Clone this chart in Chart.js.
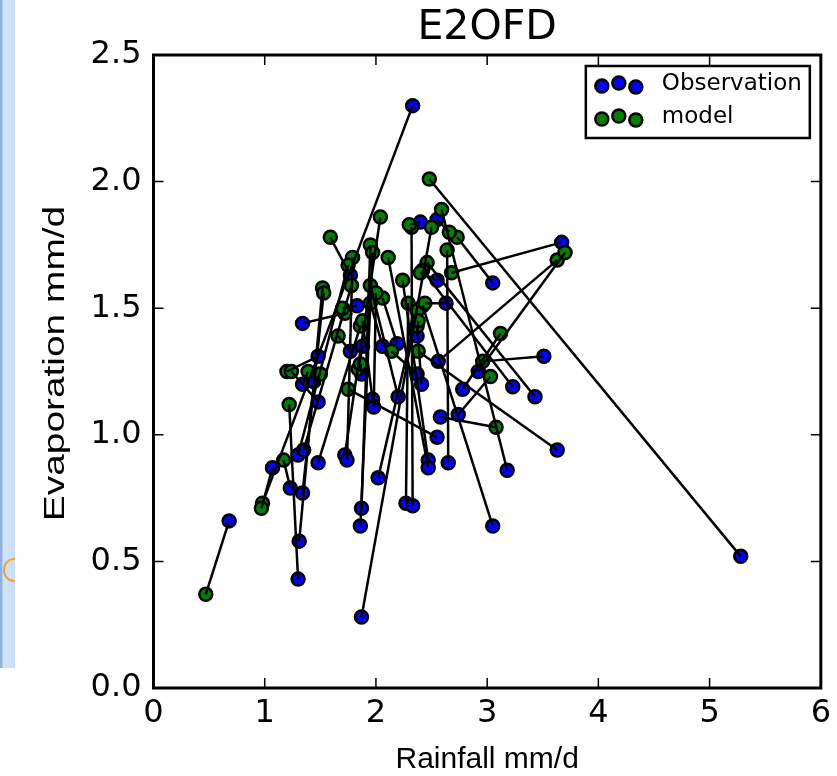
<!DOCTYPE html>
<html>
<head>
<meta charset="utf-8">
<script src="https://cdn.jsdelivr.net/npm/chart.js@4.4.1/dist/chart.umd.min.js"></script>
<style>
  html, body { margin: 0; padding: 0; background: #fff; overflow: hidden; }
  #wrap { position: relative; width: 837px; height: 776px; overflow: hidden; background: #fff; }
  #slide { position: absolute; left: 0; top: 0; width: 15px; height: 668px;
           background: linear-gradient(90deg, #8fb2de 0, #8fb2de 2px, #d3e5f8 3px, #c9def5 100%); }
  #swirl { position: absolute; left: 3px; top: 558px; width: 22px; height: 24px;
           border: 2px solid #f2a42c; border-radius: 50%; box-sizing: border-box; clip-path: inset(0 10px 0 0); }
  #chart { position: absolute; left: 0; top: 0; }
</style>
</head>
<body>
<div id="wrap">
  <div id="slide"></div>
  <div id="swirl"></div>
  <canvas id="chart" width="837" height="776"></canvas>
</div>
<script>
// each observation is joined to its model value by a line
const obsRain = [0.68, 5.28, 2.33, 3.67, 2.56, 2.92, 3.51, 3.05, 3.63, 3.43,
                 3.23, 3.18, 3.05, 2.78, 2.74, 2.58, 1.87, 2.27, 2.33, 2.47,
                 2.47, 2.65, 2.55, 2.02, 1.87, 1.86, 1.72, 1.74, 1.77, 1.30,
                 1.31, 1.07, 1.23, 1.34, 1.30, 1.35, 1.48, 1.34, 1.77, 1.88,
                 2.06, 2.19, 2.37, 2.41, 1.48, 1.34, 1.44, 2.20, 2.40, 2.55,
                 2.55, 2.63, 2.37, 1.48, 1.97, 1.98, 1.83, 1.87];
const obsEvap = [0.66, 0.52, 2.30, 1.76, 1.29, 1.25, 1.31, 1.60, 0.94, 1.15,
                 1.19, 0.86, 0.64, 1.18, 1.08, 1.07, 0.28, 0.73, 0.72, 0.90,
                 0.87, 0.89, 0.99, 0.83, 0.71, 0.64, 0.92, 0.90, 1.63, 0.43,
                 0.58, 0.87, 0.79, 0.77, 0.92, 0.94, 0.89, 1.44, 1.33, 1.35,
                 1.35, 1.36, 1.24, 1.20, 1.31, 1.20, 1.21, 1.15, 1.84, 1.85,
                 1.61, 1.52, 1.39, 1.13, 1.14, 1.11, 1.51, 1.24];
const modRain = [0.47, 2.48, 0.98, 2.68, 3.63, 3.70, 2.96, 2.73, 2.38, 2.46,
                 2.42, 2.59, 2.42, 3.12, 3.03, 3.08, 2.50, 2.29, 2.32, 2.24,
                 2.11, 2.64, 1.75, 2.37, 1.95, 1.97, 2.04, 1.79, 1.59, 1.22,
                 1.52, 0.97, 1.17, 1.53, 1.75, 1.78, 1.86, 1.72, 1.66, 1.84,
                 1.95, 2.06, 2.14, 2.37, 1.20, 1.39, 1.50, 1.95, 2.30, 2.66,
                 2.40, 2.44, 2.38, 1.24, 1.88, 2.00, 1.70, 1.86];
const modEvap = [0.37, 2.01, 0.73, 1.64, 1.69, 1.72, 1.29, 1.78, 1.33, 1.68,
                 1.65, 1.89, 1.51, 1.40, 1.23, 1.03, 1.82, 1.52, 1.82, 1.61,
                 1.70, 1.73, 1.18, 1.49, 1.75, 1.72, 1.86, 1.70, 1.78, 1.12,
                 1.58, 0.71, 0.90, 1.56, 1.67, 1.59, 1.43, 1.48, 1.39, 1.26,
                 1.52, 1.54, 1.33, 1.43, 1.25, 1.25, 1.24, 1.59, 1.83, 1.80,
                 1.64, 1.52, 1.45, 1.25, 1.45, 1.56, 1.50, 1.28];

const xTicks = [0, 1, 2, 3, 4, 5, 6];
const yTicks = [0, 0.5, 1.0, 1.5, 2.0, 2.5];
const seriesNames = ['Observation', 'model'];
const seriesColors = ['#0000ff', '#008000'];
const yLabel = 'Evaporation mm/d';

const pairLines = obsRain.map((x, i) => ({
  type: 'line',
  data: [{x: x, y: obsEvap[i]}, {x: modRain[i], y: modEvap[i]}],
  borderColor: '#000',
  borderWidth: 2.5,
  pointRadius: 0,
  fill: false,
  order: 0
}));

// matplotlib style frame with ticks pointing inward, the tall y label and the 3-marker legend
const framePlugin = {
  id: 'frame',
  afterDraw(chart) {
    const ctx = chart.ctx;
    const a = chart.chartArea;
    const xs = chart.scales.x, ys = chart.scales.y;
    ctx.save();
    ctx.strokeStyle = '#000';
    ctx.lineWidth = 1.5;
    ctx.beginPath();
    xTicks.forEach(v => {
      const p = xs.getPixelForValue(v);
      ctx.moveTo(p, a.bottom); ctx.lineTo(p, a.bottom - 10);
      ctx.moveTo(p, a.top); ctx.lineTo(p, a.top + 10);
    });
    yTicks.forEach(v => {
      const p = ys.getPixelForValue(v);
      ctx.moveTo(a.left, p); ctx.lineTo(a.left + 10, p);
      ctx.moveTo(a.right, p); ctx.lineTo(a.right - 10, p);
    });
    ctx.stroke();
    ctx.lineWidth = 3;
    ctx.strokeRect(a.left, a.top, a.right - a.left, a.bottom - a.top);

    // y axis title, drawn stretched along its length like the original
    ctx.save();
    ctx.translate(64, (a.top + a.bottom) / 2 - 8);
    ctx.rotate(-Math.PI / 2);
    ctx.scale(1.34, 1);
    ctx.fillStyle = '#000';
    ctx.font = '29px "Liberation Sans"';
    ctx.textAlign = 'center';
    ctx.textBaseline = 'alphabetic';
    ctx.fillText(yLabel, 0, 0);
    ctx.restore();

    // legend
    const bx = a.right - 235, by = a.top + 11, bw = 224, bh = 72;
    ctx.fillStyle = '#fff';
    ctx.fillRect(bx, by, bw, bh);
    ctx.lineWidth = 2.5;
    ctx.strokeRect(bx, by, bw, bh);
    const offs = [2, -1, 3];
    seriesNames.forEach((name, k) => {
      const cy = by + 18 + k * 33;
      [0, 1, 2].forEach(j => {
        ctx.beginPath();
        ctx.arc(bx + 16 + j * 17, cy + offs[j], 6.5, 0, Math.PI * 2);
        ctx.fillStyle = seriesColors[k];
        ctx.fill();
        ctx.lineWidth = 2.5;
        ctx.strokeStyle = '#000';
        ctx.stroke();
      });
      ctx.fillStyle = '#000';
      ctx.font = '23px "DejaVu Sans"';
      ctx.textBaseline = 'middle';
      ctx.textAlign = 'left';
      ctx.fillText(name, bx + 76, cy);
    });
    ctx.restore();
  }
};

new Chart(document.getElementById('chart'), {
  type: 'scatter',
  data: {
    datasets: [
      ...pairLines,
      {
        label: seriesNames[1],
        data: modRain.map((x, i) => ({x: x, y: modEvap[i]})),
        backgroundColor: seriesColors[1],
        borderColor: '#000',
        borderWidth: 2.5,
        pointRadius: 6.5,
        order: 1
      },
      {
        label: seriesNames[0],
        data: obsRain.map((x, i) => ({x: x, y: obsEvap[i]})),
        backgroundColor: seriesColors[0],
        borderColor: '#000',
        borderWidth: 2.5,
        pointRadius: 6.5,
        order: 2
      }
    ]
  },
  options: {
    responsive: false,
    animation: false,
    events: [],
    layout: { padding: { left: 0, right: 16, top: 0, bottom: 0 } },
    plugins: {
      legend: { display: false },
      tooltip: { enabled: false },
      title: {
        display: true,
        text: 'E2OFD',
        fullSize: false,
        color: '#000',
        font: { family: 'DejaVu Sans', size: 41, weight: 'normal', lineHeight: 1 },
        padding: { top: 8, bottom: 6 }
      }
    },
    scales: {
      x: {
        type: 'linear',
        min: 0, max: 6,
        afterFit(s) { s.height = 88; },
        afterBuildTicks(s) { s.ticks = xTicks.map(v => ({value: v})); },
        grid: { display: false, drawTicks: false },
        border: { display: false },
        ticks: { color: '#000', padding: 6, font: { family: 'DejaVu Sans', size: 32 },
                 callback: v => String(v) },
        title: { display: true, text: 'Rainfall mm/d', color: '#000',
                 font: { family: 'Liberation Sans', size: 30 }, padding: { bottom: -2 } }
      },
      y: {
        type: 'linear',
        min: 0, max: 2.5,
        afterFit(s) { s.width = 153.5; },
        afterBuildTicks(s) { s.ticks = yTicks.map(v => ({value: v})); },
        grid: { display: false, drawTicks: false },
        border: { display: false },
        ticks: { color: '#000', padding: 12, font: { family: 'DejaVu Sans', size: 32 },
                 callback: v => Number(v).toFixed(1) },
        title: { display: false, text: yLabel }
      }
    }
  },
  plugins: [framePlugin]
});
</script>
</body>
</html>
